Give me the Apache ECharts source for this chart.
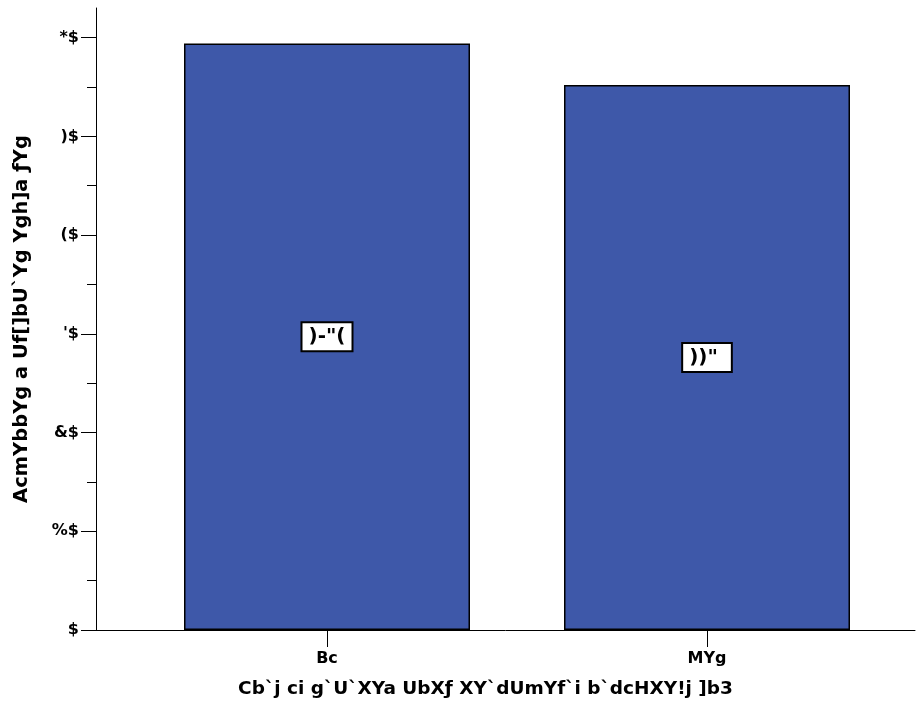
<!DOCTYPE html>
<html>
<head>
<meta charset="utf-8">
<script src="https://cdn.jsdelivr.net/npm/echarts@6/dist/echarts.min.js"></script>
<style>
  html, body { margin: 0; padding: 0; background: #fff; }
  #chart { width: 916px; height: 715px; }
</style>
</head>
<body>
<div id="chart"></div>
<script>
// Texte tel qu'il apparaît (police SPSS mal encodée)
const categories = ["Bc", "MYg"];
const values = [59.4, 55.2];
const barLabels = [")-\"(", "))\"\u00a0"];
const yTickValues = [0, 10, 20, 30, 40, 50, 60];
const yTickLabels = ["$", "%$", "&$", "'$", "($", ")$", "*$"];
const yMinorTicks = [5, 15, 25, 35, 45, 55];
const yTitle = "AcmYbbYg a Uf[]bU`Yg Ygh]a ƒYg";
const xTitle = "Cb`j ci g`U`XYa UbXƒ XY`dUmYf`i b`dcHXY!j ]b3";

const FONT = "'DejaVu Sans', 'Liberation Sans', sans-serif";
const Y_MAX = 63;

const chart = echarts.init(document.getElementById("chart"), null, { renderer: "canvas" });

chart.setOption({
  animation: false,
  grid: [
    { left: 96, right: 1, top: 8, bottom: 85 },
    { left: 137, right: 19, top: 8, bottom: 85 },
  ],
  xAxis: [
    {
      gridIndex: 0,
      type: "category",
      data: [""],
      axisLine: { lineStyle: { color: "#000", width: 1 } },
      axisTick: { show: false },
      axisLabel: { show: false },
      name: xTitle,
      nameLocation: "middle",
      nameGap: 50,
      nameTextStyle: {
        fontFamily: FONT, fontWeight: "bold", fontSize: 18.5, color: "#000",
        padding: [0, 40, 0, 0],
      },
    },
    {
      gridIndex: 1,
      type: "category",
      data: categories,
      axisLine: { show: false },
      axisTick: { show: true, alignWithLabel: true, length: 17, lineStyle: { color: "#000" } },
      axisLabel: { margin: 21, fontFamily: FONT, fontWeight: "bold", fontSize: 16, color: "#000" },
    },
  ],
  yAxis: [
    {
      gridIndex: 0,
      type: "value",
      min: 0,
      max: Y_MAX,
      interval: 10,
      axisLine: { show: true, lineStyle: { color: "#000", width: 1 } },
      axisTick: { show: true, length: 15, customValues: yTickValues, lineStyle: { color: "#000" } },
      axisLabel: {
        margin: 17,
        customValues: yTickValues,
        fontFamily: FONT, fontWeight: "bold", fontSize: 16, color: "#000",
        formatter: (v) => yTickLabels[yTickValues.indexOf(v)] ?? "",
      },
      splitLine: { show: false },
      name: yTitle,
      nameLocation: "middle",
      nameGap: 64,
      nameTextStyle: { fontFamily: FONT, fontWeight: "bold", fontSize: 19.5, color: "#000" },
    },
    {
      gridIndex: 0,
      type: "value",
      position: "left",
      min: 0,
      max: Y_MAX,
      interval: 10,
      axisLine: { show: false },
      axisTick: { show: true, length: 9, customValues: yMinorTicks, lineStyle: { color: "#000" } },
      axisLabel: { show: false },
      splitLine: { show: false },
    },
    {
      gridIndex: 1,
      type: "value",
      min: 0,
      max: Y_MAX,
      interval: 10,
      show: false,
    },
  ],
  series: [
    {
      type: "bar",
      xAxisIndex: 1,
      yAxisIndex: 2,
      data: values,
      barWidth: 286,
      itemStyle: { color: "#3e58a9", borderColor: "#000", borderWidth: 1.5 },
      label: {
        show: true,
        position: "inside",
        formatter: (p) => barLabels[p.dataIndex],
        fontFamily: FONT,
        fontWeight: "bold",
        fontSize: 20,
        color: "#000",
        backgroundColor: "#fff",
        borderColor: "#000",
        borderWidth: 2,
        padding: [4, 6, 3, 6],
      },
    },
  ],
});
</script>
</body>
</html>
